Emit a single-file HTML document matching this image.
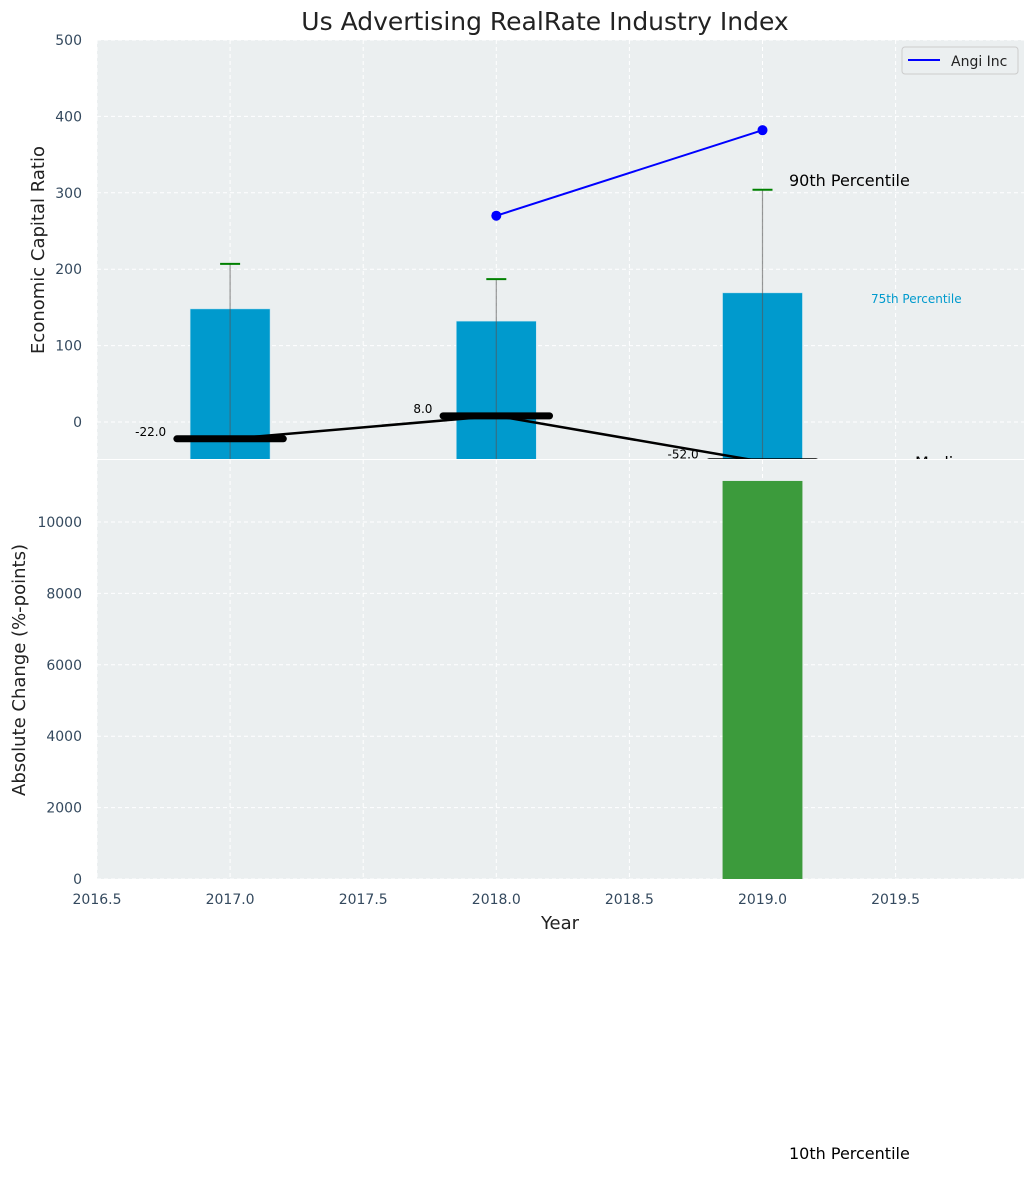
<!DOCTYPE html>
<html><head><meta charset="utf-8"><style>
body{margin:0;background:#fff;}
svg text{font-family:"DejaVu Sans","Liberation Sans",sans-serif;}
</style></head><body>
<svg id="c" width="1035" height="1173" xmlns="http://www.w3.org/2000/svg"></svg>
<script>
const years=[2017,2018,2019];
const bars75=[148,132,169];
const err90=[207,187,304];
const median=[-22,8,-52];
const angiYears=[2018,2019];
const angiVals=[270,382];
const changeYears=[2019];
const changeVals=[11150];
const xTicks=[2016.5,2017.0,2017.5,2018.0,2018.5,2019.0,2019.5];
const yTopTicks=[0,100,200,300,400,500];
const yBotTicks=[0,2000,4000,6000,8000,10000];

const NS='http://www.w3.org/2000/svg';
const svg=document.getElementById('c');
function el(t,a,p){const e=document.createElementNS(NS,t);for(const k in a)e.setAttribute(k,a[k]);(p||svg).appendChild(e);return e;}
const L=97,R=1024;
const x=v=>L+(v-2016.5)*266.2;
const yT=v=>422-v*0.764;
const yB=v=>879-v*0.0357;
// clip paths
const defs=el('defs',{});
const c1=el('clipPath',{id:'ct'},defs);el('rect',{x:L,y:40,width:R-L,height:419},c1);
const c2=el('clipPath',{id:'cb'},defs);el('rect',{x:L,y:460,width:R-L,height:419},c2);
// backgrounds
let e=el('rect',{x:L,y:40,width:R-L,height:419,fill:'#ebeff0'});

e=el('rect',{x:L,y:460,width:R-L,height:419,fill:'#ebeff0'});

// grids
const gT=el('g',{'clip-path':'url(#ct)'});const gB=el('g',{'clip-path':'url(#cb)'});
xTicks.forEach(t=>{
 el('line',{x1:x(t),x2:x(t),y1:40,y2:459,stroke:'#fff','stroke-dasharray':'4,3','stroke-width':1},gT);
 el('line',{x1:x(t),x2:x(t),y1:460,y2:879,stroke:'#fff','stroke-dasharray':'4,3','stroke-width':1},gB);
 const tx=el('text',{x:x(t),y:904,'font-size':14,fill:'#34495e','text-anchor':'middle'});tx.textContent=t.toFixed(1);
 
});
yTopTicks.forEach(t=>{
 el('line',{x1:L,x2:R,y1:yT(t),y2:yT(t),stroke:'#fff','stroke-dasharray':'4,3'},gT);
 const tx=el('text',{x:82,y:yT(t)+5,'font-size':14,fill:'#34495e','text-anchor':'end'});tx.textContent=t;
 
});
yBotTicks.forEach(t=>{
 el('line',{x1:L,x2:R,y1:yB(t),y2:yB(t),stroke:'#fff','stroke-dasharray':'4,3'},gB);
 const tx=el('text',{x:82,y:yB(t)+5,'font-size':14,fill:'#34495e','text-anchor':'end'});tx.textContent=t;
 
});
// top bars
years.forEach((yr,i)=>{
 const b=el('rect',{x:x(yr-0.15),y:yT(bars75[i]),width:x(yr+0.15)-x(yr-0.15),height:470-yT(bars75[i]),fill:'#009acd',stroke:'#bfe3f0','stroke-width':0.5},gT);
 
 const l=el('line',{x1:x(yr),x2:x(yr),y1:yT(err90[i]),y2:470,stroke:'#555','stroke-opacity':0.6,'stroke-width':1.2},gT);
 
 const cap=el('line',{x1:x(yr)-10,x2:x(yr)+10,y1:yT(err90[i]),y2:yT(err90[i]),stroke:'#008000','stroke-width':2},gT);
 
});
// median
let pts=years.map((yr,i)=>x(yr)+','+yT(median[i])).join(' ');
e=el('polyline',{points:pts,fill:'none',stroke:'#000','stroke-width':2.5},gT);

years.forEach((yr,i)=>{
 const s=el('line',{x1:x(yr-0.2),x2:x(yr+0.2),y1:yT(median[i]),y2:yT(median[i]),stroke:'#000','stroke-width':7,'stroke-linecap':'round'},gT);
 
 const t=el('text',{x:x(yr-0.24),y:yT(median[i])-3,'font-size':12,fill:'#000','text-anchor':'end'},gT);t.textContent=median[i].toFixed(1);
 
});
// angi
pts=angiYears.map((yr,i)=>x(yr)+','+yT(angiVals[i])).join(' ');
e=el('polyline',{points:pts,fill:'none',stroke:'#0000ff','stroke-width':2},gT);

angiYears.forEach((yr,i)=>{const c=el('circle',{cx:x(yr),cy:yT(angiVals[i]),r:5,fill:'#0000ff'},gT);
 });
// bottom bars
changeYears.forEach((yr,i)=>{
 const b=el('rect',{x:x(yr-0.15),y:yB(changeVals[i]),width:x(yr+0.15)-x(yr-0.15),height:yB(0)-yB(changeVals[i]),fill:'#3c9b3c'},gB);
 
});
function txt(s,a,n){const t=el('text',a);t.textContent=s;return t;}
txt('Us Advertising RealRate Industry Index',{x:545,y:30,'font-size':25,fill:'#222','text-anchor':'middle'},'chart-title');
txt('Economic Capital Ratio',{x:44,y:250,'font-size':18,fill:'#222','text-anchor':'middle',transform:'rotate(-90 44 250)'},'y-top-axis-title');
txt('Absolute Change (%-points)',{x:25,y:670,'font-size':18,fill:'#222','text-anchor':'middle',transform:'rotate(-90 25 670)'},'y-bottom-axis-title');
txt('Year',{x:560,y:929,'font-size':18,fill:'#222','text-anchor':'middle'},'x-axis-title');
txt('90th Percentile',{x:789,y:186,'font-size':16,fill:'#000'},'label-90th');
txt('75th Percentile',{x:871,y:303,'font-size':12,fill:'#009acd'},'label-75th');
const gm=el('g',{'clip-path':'url(#ct)'});
const m=el('text',{x:915,y:468,'font-size':16,fill:'#000'},gm);m.textContent='Median';
txt('10th Percentile',{x:789,y:1159,'font-size':16,fill:'#000'},'label-10th');
// legend
const lg=el('g',{});
el('rect',{x:902,y:47,width:116,height:27,rx:3,fill:'#ebeff0',stroke:'#ccc'},lg);
el('line',{x1:908,x2:940,y1:60,y2:60,stroke:'#0000ff','stroke-width':2},lg);
const lt=el('text',{x:951,y:66,'font-size':14,fill:'#222'},lg);lt.textContent='Angi Inc';
</script>
</body></html>
